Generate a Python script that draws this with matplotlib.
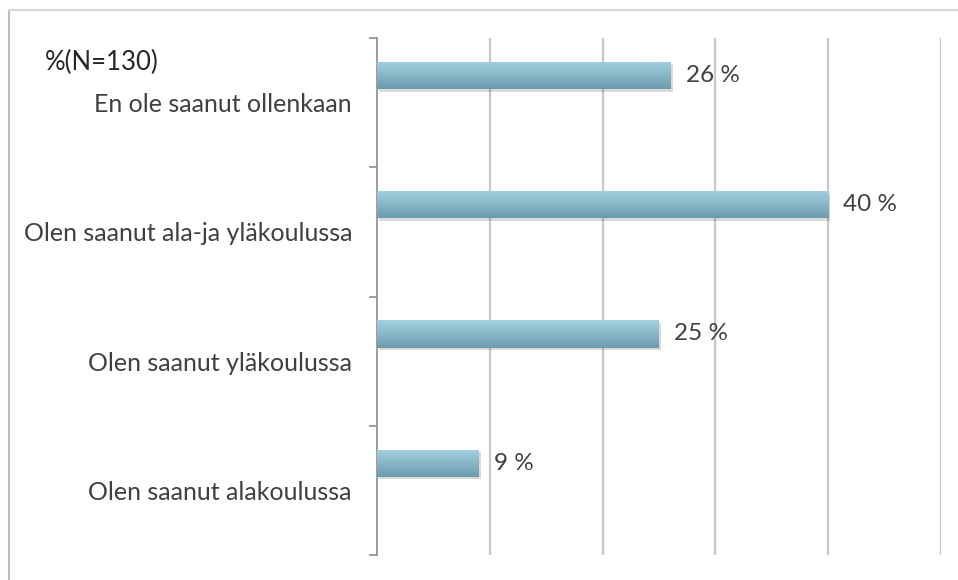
import numpy as np
import matplotlib
import matplotlib.pyplot as plt
from matplotlib.lines import Line2D
matplotlib.use('Agg')

categories = ['En ole saanut ollenkaan', 'Olen saanut ala-ja yläkoulussa',
              'Olen saanut yläkoulussa', 'Olen saanut alakoulussa']
values = [26, 40, 25, 9]
value_labels = ['26 %', '40 %', '25 %', '9 %']
title = '%(N=130)'

plt.rcParams['font.family'] = ['Lato', 'DejaVu Sans']
text_color = '#404040'

fig = plt.figure(figsize=(9.58, 5.8), dpi=100)
ax = fig.add_axes([377 / 958, 1 - 555 / 580, (941 - 377) / 958, (555 - 38) / 580])

# outer chart frame (left and top edges visible)
fig.add_artist(Line2D([9 / 958, 9 / 958], [0, 1 - 10 / 580], color='#bcbcbc', lw=1.5))
fig.add_artist(Line2D([9 / 958, 1], [1 - 10 / 580, 1 - 10 / 580], color='#d9d9d9', lw=1.5))

pos = np.arange(len(categories)) + 0.29
bar_h = 0.21

# soft shadow under the bars
ax.barh(pos + 0.02, values, height=bar_h, left=0.2, color='#000000', alpha=0.15, zorder=2)
bars = ax.barh(pos, values, height=bar_h, color='#7aa9ba', zorder=3)

grad = np.linspace(0, 1, 64)[:, None]
top_c = np.array([0.64, 0.82, 0.88])
bot_c = np.array([0.42, 0.61, 0.68])
img = top_c[None, None, :] * (1 - grad[:, :, None]) + bot_c[None, None, :] * grad[:, :, None]
for b in bars:
    x0, y0 = b.get_x(), b.get_y()
    w, h = b.get_width(), b.get_height()
    im = ax.imshow(img, extent=(x0, x0 + w, y0 + h, y0), origin='upper',
                   aspect='auto', zorder=4, interpolation='bilinear')
    im.set_clip_path(b)

for b, lab in zip(bars, value_labels):
    ax.annotate(lab, (b.get_width(), b.get_y() + b.get_height() / 2),
                xytext=(11, 0), textcoords='offset points', va='center', ha='left',
                fontsize=17.5, color=text_color, zorder=5)

ax.set_xlim(0, 50)
ax.set_ylim(4, 0)
ax.set_xticks([10, 20, 30, 40, 50])
ax.xaxis.grid(True, color='#c8c8c8', lw=1.6, zorder=0)
ax.tick_params(axis='x', length=0, labelbottom=False)

ax.set_yticks([0, 1, 2, 3, 4])
ax.set_yticklabels([])
ax.set_yticks(np.arange(len(categories)) + 0.5, minor=True)
ax.set_yticklabels(categories, minor=True, fontsize=18, color=text_color)
ax.tick_params(axis='y', which='major', length=6, width=1.2, color='#8c8c8c', direction='out')
ax.tick_params(axis='y', which='minor', length=0, pad=18)

for s in ['top', 'right', 'bottom']:
    ax.spines[s].set_visible(False)
ax.spines['left'].set_color('#8c8c8c')
ax.spines['left'].set_linewidth(1.2)
ax.set_axisbelow(True)

fig.text(45 / 958, 1 - 62 / 580, title, fontsize=18.5, color='#262626', va='center', ha='left')

fig.savefig('out.png', dpi=100, facecolor='white')
